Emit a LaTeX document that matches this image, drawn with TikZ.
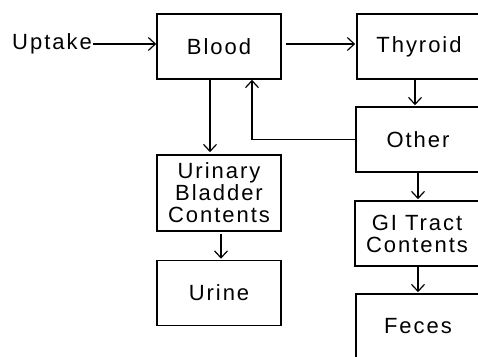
\documentclass[tikz,border=0pt]{standalone}
\usepackage{fontspec}
\setmainfont{Liberation Sans}[LetterSpace=9]
\usetikzlibrary{arrows.meta,calc}

\tikzset{
  box/.style={draw, line width=1.6pt, minimum width=124pt, minimum height=65pt,
    align=center, inner sep=0pt, font=\fontsize{22}{22}\selectfont},
  flow/.style={line width=1.2pt, -{Straight Barb[length=7pt,width=13pt,line width=1.2pt]}}
}

\begin{document}
\begin{tikzpicture}[x=1pt,y=-1pt]
  \useasboundingbox (0,0) rectangle (478,356);
  \clip (0,0) rectangle (478,356);
  % compartments
  \node[font=\fontsize{22}{22}\selectfont, inner sep=1pt] (uptake) at (52,44) {Uptake};
  \node[box] (blood) at (219,46.5) {Blood};
  \node[box] (thyroid) at (419,46.5) {Thyroid};
  \node[box] (other) at (418,139.5) {Other};
  \node[box, minimum height=76pt] (bladder) at (219,193) {Urinary\\Bladder\\Contents};
  \node[box] (urine) at (219,293) {Urine};
  \node[box] (gitract) at (417,233.5) {GI Tract\\Contents};
  \node[box] (feces) at (418,326.5) {Feces};
  % transfers
  \draw[flow] (uptake.east) -- (uptake.east -| blood.west);
  \draw[flow, shorten <=4pt, shorten >=1pt] (blood.east |- uptake) -- (thyroid.west |- uptake);
  \draw[flow, shorten >=1pt] ([xshift=-4]thyroid.south) -- ([xshift=-4]thyroid.south |- other.north);
  \draw[flow] (other.west) -| ([xshift=33]blood.south);
  \draw[flow, shorten >=2pt] ([xshift=-9]blood.south) -- ([xshift=-9]blood.south |- bladder.north);
  \draw[flow, shorten <=2pt, shorten >=1pt] ([xshift=2]bladder.south) -- ([xshift=2]bladder.south |- urine.north);
  \draw[flow, shorten >=1pt] (other.south) -- (other.south |- gitract.north);
  \draw[flow, shorten >=1pt] ([xshift=1]gitract.south) -- ([xshift=1]gitract.south |- feces.north);
\end{tikzpicture}
\end{document}
